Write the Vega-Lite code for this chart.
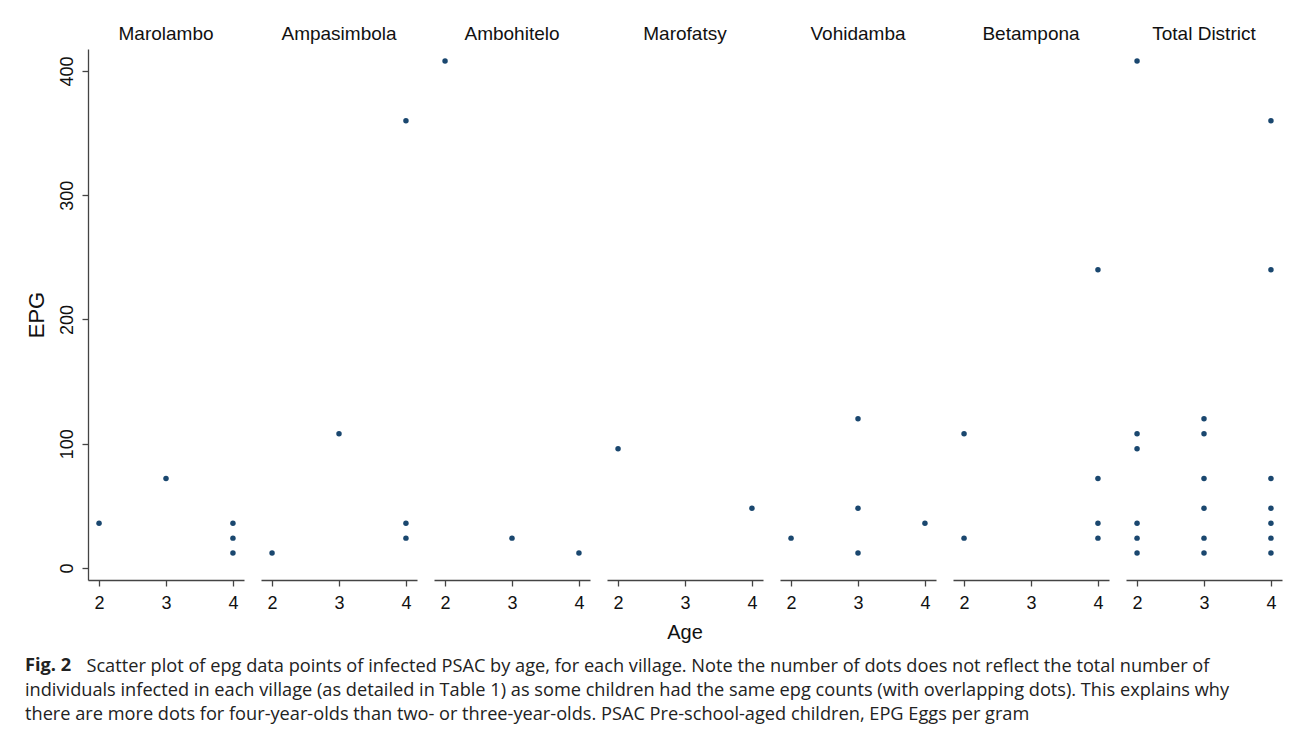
{
  "$schema": "https://vega.github.io/schema/vega-lite/v6.json",
  "background": "white",
  "padding": {"left": 25, "top": 25, "right": 8, "bottom": 5},
  "data": {
    "values": [
      {"village": "Marolambo", "age": 2, "epg": 36},
      {"village": "Marolambo", "age": 3, "epg": 72},
      {"village": "Marolambo", "age": 4, "epg": 36},
      {"village": "Marolambo", "age": 4, "epg": 24},
      {"village": "Marolambo", "age": 4, "epg": 12},
      {"village": "Ampasimbola", "age": 2, "epg": 12},
      {"village": "Ampasimbola", "age": 3, "epg": 108},
      {"village": "Ampasimbola", "age": 4, "epg": 360},
      {"village": "Ampasimbola", "age": 4, "epg": 36},
      {"village": "Ampasimbola", "age": 4, "epg": 24},
      {"village": "Ambohitelo", "age": 2, "epg": 408},
      {"village": "Ambohitelo", "age": 3, "epg": 24},
      {"village": "Ambohitelo", "age": 4, "epg": 12},
      {"village": "Marofatsy", "age": 2, "epg": 96},
      {"village": "Marofatsy", "age": 4, "epg": 48},
      {"village": "Vohidamba", "age": 2, "epg": 24},
      {"village": "Vohidamba", "age": 3, "epg": 120},
      {"village": "Vohidamba", "age": 3, "epg": 48},
      {"village": "Vohidamba", "age": 3, "epg": 12},
      {"village": "Vohidamba", "age": 4, "epg": 36},
      {"village": "Betampona", "age": 2, "epg": 108},
      {"village": "Betampona", "age": 2, "epg": 24},
      {"village": "Betampona", "age": 4, "epg": 240},
      {"village": "Betampona", "age": 4, "epg": 72},
      {"village": "Betampona", "age": 4, "epg": 36},
      {"village": "Betampona", "age": 4, "epg": 24},
      {"village": "Total District", "age": 2, "epg": 408},
      {"village": "Total District", "age": 2, "epg": 108},
      {"village": "Total District", "age": 2, "epg": 96},
      {"village": "Total District", "age": 2, "epg": 36},
      {"village": "Total District", "age": 2, "epg": 24},
      {"village": "Total District", "age": 2, "epg": 12},
      {"village": "Total District", "age": 3, "epg": 120},
      {"village": "Total District", "age": 3, "epg": 108},
      {"village": "Total District", "age": 3, "epg": 72},
      {"village": "Total District", "age": 3, "epg": 48},
      {"village": "Total District", "age": 3, "epg": 24},
      {"village": "Total District", "age": 3, "epg": 12},
      {"village": "Total District", "age": 4, "epg": 360},
      {"village": "Total District", "age": 4, "epg": 240},
      {"village": "Total District", "age": 4, "epg": 72},
      {"village": "Total District", "age": 4, "epg": 48},
      {"village": "Total District", "age": 4, "epg": 36},
      {"village": "Total District", "age": 4, "epg": 24},
      {"village": "Total District", "age": 4, "epg": 12}
    ]
  },
  "facet": {
    "column": {
      "field": "village",
      "type": "nominal",
      "sort": ["Marolambo", "Ampasimbola", "Ambohitelo", "Marofatsy", "Vohidamba", "Betampona", "Total District"],
      "title": "Age",
      "header": {
        "labelOrient": "top",
        "labelFont": "Liberation Sans",
        "labelFontSize": 19,
        "labelColor": "#111111",
        "labelPadding": 5,
        "titleOrient": "bottom",
        "titleFont": "Liberation Sans",
        "titleFontSize": 20,
        "titleFontWeight": "normal",
        "titleColor": "#111111",
        "titlePadding": 1
      }
    }
  },
  "spacing": 17,
  "spec": {
    "width": 156,
    "height": 531,
    "mark": {"type": "circle", "size": 30, "opacity": 1, "color": "#1a476f"},
    "encoding": {
      "x": {
        "field": "age",
        "type": "quantitative",
        "scale": {"domain": [1.835, 4.165], "nice": false, "zero": false},
        "axis": {"values": [2, 3, 4], "title": null, "labelPadding": 8, "format": "d"}
      },
      "y": {
        "field": "epg",
        "type": "quantitative",
        "scale": {"domain": [-9.7, 417.7], "nice": false, "zero": false},
        "axis": {
          "values": [0, 100, 200, 300, 400],
          "title": "EPG",
          "titleFont": "Liberation Sans",
          "titleFontSize": 22,
          "titleFontWeight": "normal",
          "titleColor": "#111111",
          "titlePadding": 10,
          "labelAngle": 270,
          "labelPadding": 6,
          "format": "d"
        }
      }
    }
  },
  "title": {
    "text": "Fig. 2",
    "subtitle": [
      "\u2060\u00a0\u00a0\u00a0\u00a0\u00a0\u00a0\u00a0\u00a0\u00a0\u00a0\u00a0\u00a0\u00a0Scatter plot of epg data points of infected PSAC by age, for each village. Note the number of dots does not reflect the total number of",
      "individuals infected in each village (as detailed in Table 1) as some children had the same epg counts (with overlapping dots). This explains why",
      "there are more dots for four-year-olds than two- or three-year-olds. PSAC Pre-school-aged children, EPG Eggs per gram"
    ],
    "orient": "bottom",
    "anchor": "start",
    "frame": "bounds",
    "font": "Open Sans",
    "fontWeight": "bold",
    "fontSize": 18.2,
    "color": "#222222",
    "subtitleFont": "Open Sans",
    "subtitleFontSize": 18.2,
    "subtitleColor": "#222222",
    "subtitleLineHeight": 24,
    "subtitlePadding": -17,
    "offset": 14
  },
  "config": {
    "view": {"stroke": null},
    "axis": {
      "grid": false,
      "domainColor": "#444444",
      "domainWidth": 1.3,
      "tickColor": "#444444",
      "tickWidth": 1.3,
      "tickSize": 6,
      "labelFont": "Liberation Sans",
      "labelFontSize": 18,
      "labelColor": "#111111"
    }
  }
}
